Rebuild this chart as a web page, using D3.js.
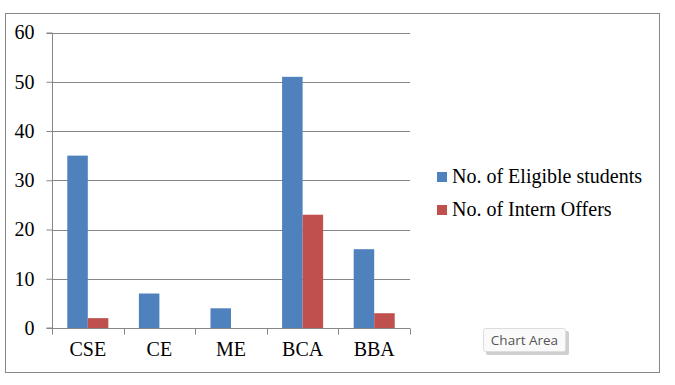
<!DOCTYPE html>
<html><head><meta charset="utf-8">
<script src="https://cdn.jsdelivr.net/npm/d3@7"></script>
<style>body{margin:0;background:#fff;}svg{display:block;}</style>
</head><body>
<svg id="c" width="675" height="385"></svg>
<script>
const categories = ["CSE","CE","ME","BCA","BBA"];
const seriesNames = ["No. of Eligible students","No. of Intern Offers"];
const eligible = [35,7,4,51,16];
const offers = [2,0,0,23,3];
const yTicks = [0,10,20,30,40,50,60];
const colors = ["#4F81BD","#C0504D"];

(function(){
const svg = d3.select("#c");
svg.append("rect").attr("x",5.5).attr("y",13.5).attr("width",654).attr("height",359)
  .attr("fill","#fff").attr("stroke","#888").attr("stroke-width",1);

const pL = 52, pR = 410, pT = 32.5, pB = 328;
const x = d3.scaleBand().domain(categories).range([pL,pR]).paddingInner(0.427).paddingOuter(0.2135);
const x1 = d3.scaleBand().domain([0,1]).range([0,x.bandwidth()]);
const y = d3.scaleLinear().domain([0,60]).range([pB,pT]);

const font = "Liberation Serif, Times New Roman, serif";
svg.append("g").selectAll("line").data(yTicks.filter(d=>d>0)).join("line")
  .attr("x1",pL).attr("x2",pR).attr("y1",d=>Math.round(y(d))+0.5).attr("y2",d=>Math.round(y(d))+0.5)
  .attr("stroke","#868686").attr("stroke-width",1);

const data = categories.map((c,i)=>({c, vals:[eligible[i],offers[i]]}));
const g = svg.append("g");
g.selectAll("g").data(data).join("g").attr("transform",d=>`translate(${x(d.c)},0)`)
  .selectAll("rect").data(d=>d.vals.map((v,k)=>({v,k}))).join("rect")
  .attr("x",d=>x1(d.k)).attr("width",x1.bandwidth())
  .attr("y",d=>y(d.v)).attr("height",d=>y(0)-y(d.v)).attr("fill",d=>colors[d.k]);

const ya = svg.append("g").attr("transform",`translate(${pL+0.5},0)`)
  .call(d3.axisLeft(y).tickValues(yTicks).tickSize(6).tickPadding(12).tickFormat(d3.format("d")));
ya.select(".domain").attr("stroke","#868686").attr("d",`M-6,${Math.round(pT)+0.5}H0V${pB}H-6`);
ya.selectAll(".tick line").attr("stroke","#868686");
ya.selectAll(".tick text").attr("font-family",font).attr("font-size","20px").attr("fill","#000");

const xa = svg.append("g").attr("transform",`translate(0,${pB+0.5})`)
  .call(d3.axisBottom(x).tickSize(0).tickPadding(13));
xa.select(".domain").attr("stroke","#868686").attr("d",`M${pL},0H${pR}`);
xa.selectAll(".tick text").attr("font-family",font).attr("font-size","20px").attr("fill","#000");
const bounds = categories.map(c=>x(c)-x.step()*x.paddingInner()/2).concat([pR]);
xa.selectAll(".sep").data(bounds).join("line").attr("class","sep")
  .attr("x1",d=>Math.round(d)+0.5).attr("x2",d=>Math.round(d)+0.5).attr("y1",0).attr("y2",6)
  .attr("stroke","#868686");

const lg = svg.append("g").attr("transform","translate(437,172)");
seriesNames.forEach((n,i)=>{
  lg.append("rect").attr("x",0).attr("y",i*33).attr("width",10).attr("height",10).attr("fill",colors[i]);
  lg.append("text").attr("x",15).attr("y",i*33+11).attr("font-family",font).attr("font-size","20px").attr("fill","#000").text(n);
});

const tt = svg.append("g").attr("transform","translate(483,328)");
tt.append("rect").attr("x",3).attr("y",3).attr("width",83).attr("height",24).attr("rx",2).attr("fill","#bbb").attr("opacity",0.7);
tt.append("rect").attr("x",0.5).attr("y",0.5).attr("width",82).attr("height",23).attr("rx",2).attr("fill","#fafafa").attr("stroke","#ddd");
tt.append("text").attr("x",41.5).attr("y",17).attr("text-anchor","middle").attr("font-family","Open Sans, Noto Sans, sans-serif").attr("font-size","13.5px").attr("fill","#555").text("Chart Area");
})();
</script>
</body></html>
